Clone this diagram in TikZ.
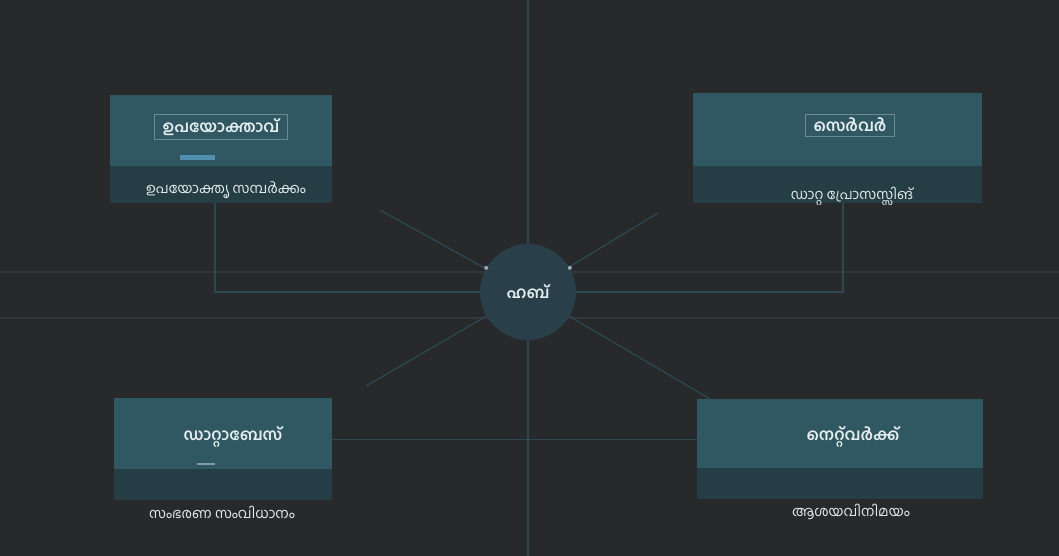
\documentclass[tikz,border=0pt]{standalone}
\usepackage{fontspec}
\newfontfamily\mlfont[Script=Malayalam]{Hind Kochi}
\definecolor{bgdark}{HTML}{27292A}
\definecolor{panelteal}{HTML}{2F5863}
\definecolor{panelband}{HTML}{253D44}
\definecolor{wireteal}{HTML}{2C4850}
\definecolor{gridgray}{HTML}{30383A}
\definecolor{hubfill}{HTML}{29404A}
\definecolor{textlight}{HTML}{E6EDEF}
\tikzset{
	panelbox/.style={fill=panelteal, inner sep=0pt,
		path picture={\fill[panelband] (path picture bounding box.south west) rectangle ([yshift=#1]path picture bounding box.south east);}},
	panelbox/.default=28pt,
	titletext/.style={text=textlight, font=\mlfont\bfseries\fontsize{12}{14}\selectfont, inner xsep=6pt, inner ysep=3pt},
	titlebox/.style={titletext, draw=panelteal!70!white, line width=0.4pt},
	captext/.style={text=textlight, font=\mlfont\fontsize{10.5}{12}\selectfont, inner sep=1pt},
	wire/.style={draw=wireteal, line width=1pt},
	hub/.style={circle, fill=hubfill, minimum size=72pt, inner sep=0pt, text=textlight, font=\mlfont\bfseries\fontsize{12}{14}\selectfont}
}
\begin{document}
\begin{tikzpicture}[x=0.75pt, y=-0.75pt]
	\fill[bgdark] (0,0) rectangle (1059,556);
	\useasboundingbox (0,0) rectangle (1059,556);
	
	\foreach \y in {272, 318} {
		\draw[gridgray, line width=1pt] (0,\y) -- (1059,\y);
	}
	
	\node[hub] (hub) at (528,292) {ഹബ്};
	
	\node[panelbox, minimum width=166.5pt, minimum height=81pt] (tl) at (221,149) {};
	\node[panelbox, minimum width=216.75pt, minimum height=82.5pt] (tr) at (837.5,148) {};
	\node[panelbox=23pt, minimum width=163.5pt, minimum height=76.5pt] (bl) at (223,449) {};
	\node[panelbox=23pt, minimum width=214.5pt, minimum height=75pt] (br) at (840,449) {};
	
	\fill[cyan!45!panelteal] (180,155) rectangle (215,160);
	\fill[panelteal!60!white] (197,463) rectangle (215,465);
	
	\node[titlebox] (tlt) at (221,127) {ഉപയോക്താവ്};
	\node[captext] (tlc) at (226,190) {ഉപയോക്തൃ സമ്പർക്കം};
	\node[titlebox] (trt) at (850,125) {സെർവർ};
	\node[captext] (trc) at (852,196) {ഡാറ്റ പ്രോസസ്സിങ്};
	\node[titletext] (blt) at (233,437) {ഡാറ്റാബേസ്};
	\node[captext] (blc) at (222,512) {സംഭരണ സംവിധാനം};
	\node[titletext] (brt) at (853,437) {നെറ്റ്‌വർക്ക്};
	\node[captext] (brc) at (851,512) {ആശയവിനിമയം};
	
	\coordinate (top) at (528,0);
	\coordinate (bottom) at (528,556);
	\coordinate (tlk) at (215,292);
	\coordinate (trk) at (843,292);
	\coordinate (dtl) at (380,210);
	\coordinate (dtr) at (658,213);
	\coordinate (dbl) at (366,386);
	\coordinate (dbr) at (710,399);
	
	\draw[wire] (top) -- (hub);
	\draw[wire] (hub) -- (bottom);
	\draw[wire] (tlk |- tl.south) -- (tlk) -- (hub);
	\draw[wire] (trk |- tr.south) -- (trk) -- (hub);
	\draw[wire] ([yshift=7pt]bl.east) -- ([yshift=7pt]br.west);
	\foreach \d in {dtl, dtr, dbl, dbr} {
		\draw[wire] (hub) -- (\d);
	}
	\foreach \a in {150, 30} {
		\fill[panelteal!50!white] (hub.\a) circle[radius=1.5pt];
	}
\end{tikzpicture}
\end{document}
